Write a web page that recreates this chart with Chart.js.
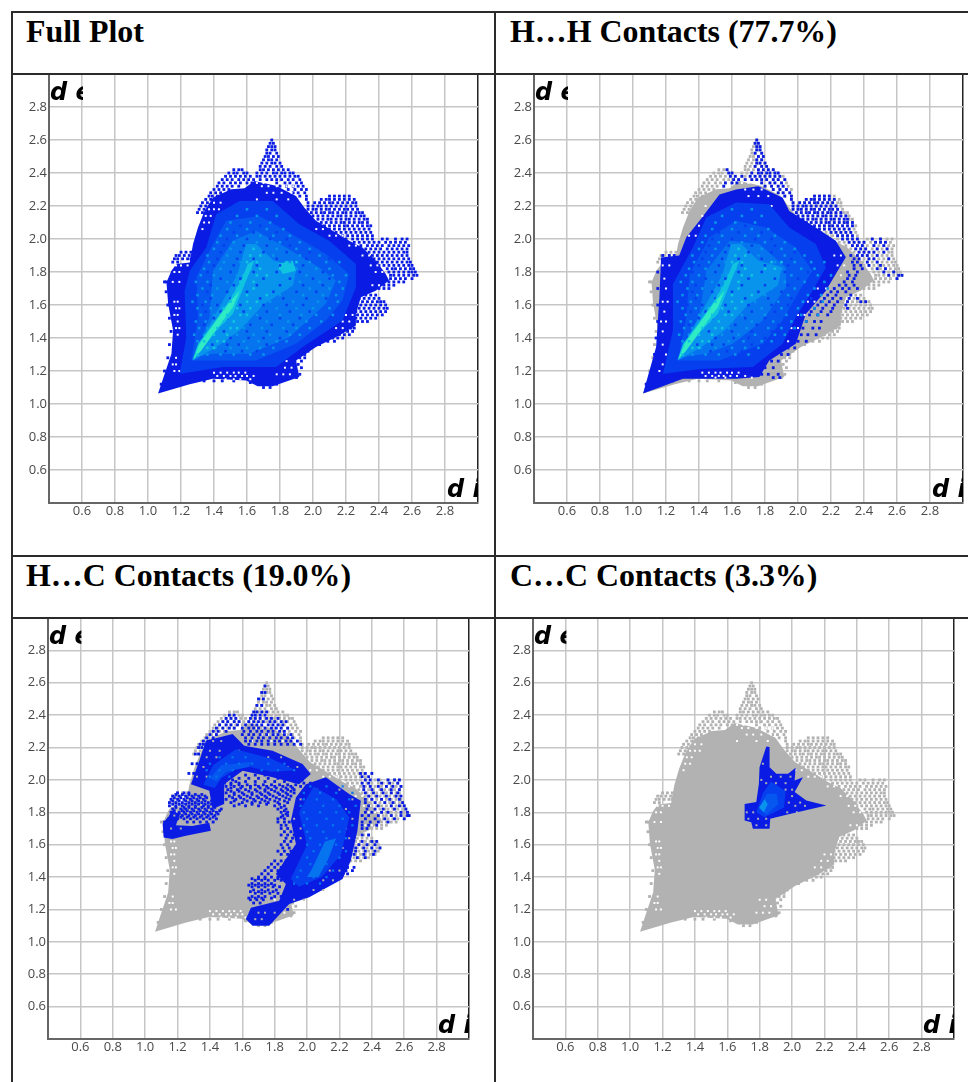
<!DOCTYPE html>
<html>
<head>
<meta charset="utf-8">
<title>Fingerprint plots</title>
<script src="https://cdn.jsdelivr.net/npm/chart.js@4/dist/chart.umd.min.js"></script>
<style>
html, body { margin: 0; padding: 0; background: #fff; width: 968px; height: 1082px; overflow: hidden; }
.hline, .vline { position: absolute; background: #2b2b2b; z-index: 5; }
.title { position: absolute; font: bold 31.9px "Liberation Serif", serif; color: #000; white-space: nowrap; }
canvas { position: absolute; }
</style>
</head>
<body>
<div class="hline" style="left:11px;top:11px;width:957px;height:2px"></div>
<div class="hline" style="left:11px;top:73px;width:957px;height:2px"></div>
<div class="hline" style="left:11px;top:555px;width:957px;height:2px"></div>
<div class="hline" style="left:11px;top:617px;width:957px;height:2px"></div>
<div class="vline" style="left:11px;top:11px;width:2px;height:1071px"></div>
<div class="vline" style="left:494px;top:11px;width:2px;height:1071px"></div>

<div class="title" style="left:26px;top:14px">Full Plot</div>
<div class="title" style="left:510px;top:14px">H…H Contacts (77.7%)</div>
<div class="title" style="left:26px;top:558px">H…C Contacts (19.0%)</div>
<div class="title" style="left:510px;top:558px">C…C Contacts (3.3%)</div>

<canvas id="plotFull"></canvas>
<canvas id="plotHH"></canvas>
<canvas id="plotHC"></canvas>
<canvas id="plotCC"></canvas>

<script>
//////////////////
// Data, all read off the picture. Outlines are [di, de] pairs, rows are [de, di, di, ...]

var tickValues = [0.6,0.8,1.0,1.2,1.4,1.6,1.8,2.0,2.2,2.4,2.6,2.8,3.0];
var tickLabels = ["0.6","0.8","1.0","1.2","1.4","1.6","1.8","2.0","2.2","2.4","2.6","2.8",""];

var blue = ["#0a1ce4","#0640ee","#0656f0","#0674ee","#0894ec","#10c4e0","#30ecc4"];
var greyColor = "#b2b2b2";

// whole cloud, solid part
var cloudOutline = [[1.061,1.063],[1.091,1.153],[1.142,1.305],[1.152,1.446],[1.122,1.607],[1.112,1.738],[1.142,1.808],[1.172,1.848],[1.253,1.858],[1.273,1.969],[1.303,2.070],[1.343,2.171],[1.394,2.251],[1.504,2.302],[1.585,2.308],[1.645,2.352],[1.776,2.322],[1.897,2.261],[1.947,2.191],[2.018,2.110],[2.119,2.050],[2.219,1.989],[2.300,1.949],[2.380,1.869],[2.441,1.788],[2.461,1.748],[2.380,1.687],[2.290,1.647],[2.260,1.546],[2.260,1.476],[2.159,1.415],[2.018,1.345],[1.897,1.264],[1.917,1.164],[1.756,1.107],[1.665,1.107],[1.595,1.143],[1.394,1.153],[1.253,1.119]];

// loose dots round the cloud
var cloudDots = [
[2.60,1.75],[2.58,1.74,1.76],[2.56,1.73,1.75,1.77],[2.54,1.72,1.75,1.77],[2.52,1.72,1.74,1.78],[2.50,1.71,1.73,1.76,1.79],[2.48,1.70,1.73,1.75,1.78],[2.46,1.69,1.72,1.75,1.77,1.80],[2.44,1.68,1.71,1.74,1.78,1.81],
[2.42,1.52,1.55,1.57,1.68,1.70,1.73,1.76,1.79,1.82,1.85],
[2.40,1.49,1.52,1.54,1.58,1.60,1.66,1.69,1.72,1.76,1.78,1.81,1.83,1.86,1.88],
[2.38,1.47,1.50,1.53,1.56,1.59,1.62,1.66,1.68,1.71,1.74,1.77,1.80,1.83,1.86,1.89,1.91],
[2.36,1.45,1.48,1.51,1.55,1.58,1.61,1.64,1.68,1.72,1.75,1.78,1.81,1.85,1.88,1.92],
[2.34,1.43,1.46,1.50,1.53,1.56,1.60,1.63,1.78,1.83,1.86,1.90,1.93],
[2.32,1.42,1.45,1.48,1.51,1.55,1.80,1.84,1.88,1.91,1.94],
[2.30,1.40,1.43,1.46,1.49,1.85,1.89,1.93,1.96],
[2.28,1.38,1.41,1.44,1.88,1.91,1.95],
[2.26,1.37,1.39,1.42,1.92,1.96,2.10,2.13,2.16,2.19,2.22],
[2.24,1.35,1.38,1.41,1.96,2.05,2.08,2.10,2.13,2.16,2.19,2.22,2.25],
[2.22,1.33,1.36,1.39,1.97,2.01,2.04,2.07,2.10,2.12,2.15,2.18,2.21,2.24,2.26],
[2.20,1.32,1.35,1.97,2.00,2.03,2.05,2.08,2.11,2.14,2.17,2.20,2.23,2.26],
[2.18,1.31,1.34,1.97,2.00,2.02,2.05,2.08,2.10,2.13,2.16,2.19,2.21,2.24,2.27],
[2.16,1.30,1.33,1.99,2.02,2.05,2.07,2.10,2.12,2.15,2.18,2.20,2.23,2.26,2.28,2.30],
[2.14,2.00,2.03,2.06,2.09,2.12,2.15,2.17,2.20,2.23,2.26,2.29,2.31],
[2.12,2.03,2.06,2.09,2.11,2.14,2.17,2.20,2.22,2.25,2.28,2.31,2.33],
[2.10,2.05,2.08,2.11,2.14,2.17,2.19,2.22,2.25,2.28,2.30,2.33],
[2.08,2.04,2.07,2.10,2.13,2.16,2.19,2.21,2.24,2.27,2.30,2.33,2.35],
[2.06,2.06,2.10,2.13,2.16,2.19,2.22,2.25,2.28,2.31,2.34],
[2.04,2.10,2.14,2.17,2.20,2.23,2.26,2.29,2.32,2.35],
[2.02,2.15,2.18,2.21,2.24,2.27,2.30,2.33,2.36],
[2.00,2.20,2.24,2.27,2.30,2.33,2.36,2.42,2.45,2.50,2.54,2.57],
[1.98,2.25,2.28,2.31,2.34,2.37,2.40,2.44,2.47,2.50,2.53,2.56],
[1.96,2.29,2.33,2.36,2.39,2.42,2.46,2.49,2.52,2.55,2.58],
[1.94,2.32,2.35,2.38,2.41,2.45,2.48,2.51,2.54,2.57],
[1.92,1.20,1.23,1.26,2.34,2.37,2.40,2.43,2.46,2.49,2.52,2.55,2.57],
[1.90,1.17,1.19,1.22,1.25,1.27,2.36,2.39,2.42,2.45,2.48,2.51,2.54,2.57],
[1.88,1.16,1.18,1.21,1.24,1.26,2.37,2.40,2.43,2.46,2.49,2.52,2.55,2.58],
[1.86,1.15,1.18,2.39,2.42,2.45,2.48,2.51,2.54,2.57,2.59],
[1.84,2.40,2.43,2.46,2.49,2.52,2.55,2.58,2.60],
[1.82,2.45,2.48,2.50,2.53,2.56,2.59,2.61],
[1.80,2.46,2.49,2.52,2.55,2.58,2.60,2.62],
[1.78,2.47,2.49,2.52,2.55,2.58,2.61,2.63],
[1.76,2.47,2.50,2.53,2.56,2.60],
[1.74,2.46,2.49,2.52,2.55],
[1.72,2.43,2.46,2.49],
[1.70,2.40,2.43,2.46],
[1.66,2.29,2.32,2.35,2.38],
[1.64,2.28,2.31,2.34,2.37,2.40],
[1.62,2.27,2.30,2.33,2.36,2.39,2.41,2.43],
[1.60,2.26,2.29,2.32,2.35,2.38,2.41,2.44],
[1.58,2.28,2.31,2.34,2.37,2.40,2.43,2.45],
[1.56,2.26,2.29,2.32,2.35,2.38,2.41,2.44],
[1.54,2.27,2.30,2.33,2.36,2.39,2.42],
[1.52,2.26,2.29,2.32,2.35,2.38],
[1.50,2.27,2.30,2.33],
[1.46,2.20,2.23,2.25],
[1.44,2.15,2.18,2.21,2.24],
[1.42,2.10,2.13,2.16,2.19,2.22],
[1.40,2.05,2.08,2.12,2.15,2.18],
[1.38,2.02,2.05,2.09,2.13],
[1.36,2.00,2.04],
[1.32,1.94,1.97],
[1.30,1.91,1.95],
[1.28,1.88,1.92,1.95],
[1.26,1.86,1.89,1.93],
[1.24,1.87,1.91],
[1.22,1.85,1.89,1.93],
[1.18,1.89,1.92],
// rough bits along the solid edge
[1.74,1.10,1.11],[1.68,1.11],[1.60,1.12],[1.52,1.13],[1.44,1.14],[1.36,1.13],[1.28,1.12],[1.20,1.10],[1.12,1.08,1.11],
[1.13,1.19,1.22,1.62],[1.14,1.28,1.34,1.40,1.45,1.52],[1.12,1.67,1.73,1.78],[1.10,1.70,1.74],[1.16,1.86,1.90]
];

// white holes in the solid part
var cloudHoles = [
[2.34,1.66,1.70,1.74,1.80],[2.32,1.69,1.73,1.78,1.84,1.88],[2.28,1.72,1.76,1.81,1.87],[2.24,1.66,1.78,1.85],
[2.22,1.40,1.44],[2.18,1.37,1.40,1.43],[2.14,1.35,1.38],[2.10,1.34,1.37],[2.06,1.33],
[1.84,1.17,1.20,1.24],[1.80,1.16,1.19],[1.74,1.15,1.19],
[1.62,1.16,1.18],[1.58,1.17,1.19],[1.54,1.16,1.18],[1.50,1.18],[1.46,1.17,1.19],[1.42,1.18],[1.28,1.17],[1.24,1.15,1.17],[1.20,1.16,1.19],
[1.19,1.40,1.44,1.48,1.52,1.55,1.59],[1.17,1.42,1.46,1.50,1.53,1.57,1.60,1.64],[1.15,1.47,1.52,1.56,1.62],
[2.06,2.02,2.06],[2.02,2.10,2.14,2.18],[1.96,2.22,2.26],[1.90,2.30,2.34],[1.84,2.35,2.39],[1.80,2.38,2.42],[1.72,2.36,2.40],
[1.54,2.20,2.24],[1.50,2.18,2.22],[1.46,2.14,2.18],[1.26,1.80,1.84],[1.22,1.83,1.87],[1.18,1.78,1.82,1.86]
];

// density layers of the full plot
var fullMid = [[1.192,1.184],[1.232,1.405],[1.222,1.687],[1.253,1.808],[1.353,1.949],[1.414,2.150],[1.555,2.231],[1.756,2.231],[1.917,2.090],[2.098,1.989],[2.260,1.848],[2.260,1.707],[2.179,1.506],[1.937,1.345],[1.776,1.224],[1.454,1.224]];
var fullLight = [[1.263,1.264],[1.303,1.526],[1.293,1.768],[1.394,1.969],[1.474,2.110],[1.675,2.140],[1.837,2.050],[2.078,1.909],[2.219,1.788],[2.179,1.627],[2.078,1.506],[1.897,1.365],[1.655,1.264],[1.414,1.264]];
var fullLighter = [[1.283,1.284],[1.373,1.526],[1.394,1.808],[1.514,1.989],[1.655,2.050],[1.837,1.949],[2.038,1.828],[2.139,1.748],[2.078,1.607],[1.857,1.405],[1.615,1.305],[1.394,1.305]];
var coreBand = [[1.273,1.264],[1.414,1.345],[1.555,1.446],[1.696,1.600],[1.880,1.720],[1.900,1.830],[1.760,1.870],[1.655,1.969],[1.595,1.969],[1.540,1.780],[1.440,1.600],[1.333,1.405]];
var coreCyan = [[1.269,1.264],[1.373,1.405],[1.514,1.546],[1.595,1.748],[1.645,1.869],[1.605,1.848],[1.565,1.748],[1.494,1.627],[1.394,1.486],[1.303,1.365]];
var coreLobe = [[1.786,1.848],[1.877,1.869],[1.897,1.808],[1.816,1.788]];
var coreSpring = [[1.273,1.268],[1.323,1.325],[1.514,1.587],[1.555,1.687],[1.494,1.617],[1.414,1.506],[1.313,1.365]];

// mottling inside the cloud
var speckLight = [
[1.30,1.36,1.44,1.52,1.62,1.70],[1.34,1.32,1.41,1.50,1.60,1.68,1.76],[1.38,1.30,1.37,1.46,1.58,1.67,1.78,1.84],[1.42,1.28,1.34,1.43,1.54,1.64,1.74,1.86,1.92],
[1.46,1.31,1.36,1.47,1.58,1.69,1.82,1.90,1.98],[1.50,1.29,1.35,1.44,1.60,1.72,1.85,1.96,2.05],[1.54,1.32,1.40,1.52,1.66,1.80,1.93,2.02,2.12],[1.58,1.30,1.38,1.50,1.64,1.78,1.90,2.00,2.10],
[1.62,1.27,1.35,1.46,1.62,1.74,1.88,2.03,2.15],[1.66,1.30,1.39,1.52,1.66,1.80,1.94,2.06,2.14],[1.70,1.33,1.42,1.56,1.70,1.84,1.98,2.10,2.18],[1.74,1.29,1.36,1.48,1.60,1.76,1.92,2.04,2.16],
[1.78,1.32,1.40,1.54,1.68,1.82,1.96,2.12,2.20],[1.82,1.34,1.44,1.58,1.72,1.90,2.02,2.10],[1.86,1.37,1.46,1.56,1.70,1.86,1.98,2.08,2.16],[1.90,1.36,1.48,1.60,1.76,1.92,2.04],
[1.94,1.40,1.50,1.62,1.78,1.90,1.98],[1.98,1.42,1.52,1.66,1.80,1.92],[2.02,1.44,1.54,1.68,1.76,1.86],[2.06,1.48,1.60,1.72,1.82],[2.10,1.50,1.62,1.74],[2.14,1.54,1.66,1.78],[2.18,1.60,1.72]
];
var speckDark = [
[1.32,1.47,1.57,1.66],[1.36,1.39,1.48,1.55,1.72],[1.40,1.33,1.50,1.61,1.70,1.80],[1.44,1.38,1.46,1.60,1.72,1.84],[1.48,1.34,1.62,1.75,1.88],[1.52,1.40,1.48,1.68,1.80,1.92],
[1.56,1.35,1.44,1.58,1.72,1.86,1.98],[1.60,1.33,1.42,1.56,1.70,1.84,1.94],[1.64,1.38,1.50,1.68,1.82,1.96,2.08],[1.68,1.36,1.48,1.60,1.76,1.90,2.02],[1.72,1.38,1.52,1.66,1.80,1.94,2.06],
[1.76,1.44,1.56,1.70,1.86,2.00,2.10],[1.80,1.36,1.50,1.64,1.78,1.92,2.06],[1.84,1.40,1.52,1.66,1.80,1.94],[1.88,1.42,1.54,1.64,1.78,1.96,2.10],[1.92,1.44,1.56,1.70,1.84,1.98],[1.96,1.46,1.58,1.72,1.86],[2.00,1.48,1.60,1.74,1.84],[2.04,1.52,1.64,1.78],[2.08,1.56,1.68]
];
var speckBright = [
[1.30,1.30],[1.34,1.36,1.40],[1.38,1.34,1.42,1.46],[1.42,1.40,1.48],[1.46,1.42,1.50,1.54],[1.50,1.46,1.52],[1.54,1.48,1.56,1.60],[1.58,1.46,1.54,1.62],[1.62,1.50,1.60,1.66],[1.66,1.52,1.60,1.72],
[1.70,1.54,1.64],[1.74,1.56,1.64],[1.78,1.58,1.66,1.72],[1.82,1.62,1.68,1.80,1.86],[1.86,1.60,1.66,1.84,1.90],[1.90,1.62,1.68],[1.94,1.64]
];

// H...H
var hhOutline = [[1.061,1.063],[1.140,1.345],[1.160,1.647],[1.170,1.888],[1.280,1.900],[1.323,2.010],[1.403,2.110],[1.524,2.270],[1.625,2.300],[1.760,2.320],[1.907,2.250],[1.947,2.170],[2.108,2.070],[2.229,1.990],[2.290,1.890],[2.229,1.788],[2.169,1.687],[2.048,1.546],[1.987,1.365],[1.826,1.264],[1.766,1.163],[1.625,1.153],[1.303,1.153]];
var hhMid = [[1.182,1.184],[1.242,1.446],[1.242,1.727],[1.363,1.949],[1.444,2.130],[1.625,2.221],[1.826,2.211],[1.947,2.070],[2.108,1.969],[2.169,1.828],[2.088,1.687],[1.987,1.526],[1.907,1.365],[1.726,1.224],[1.424,1.214]];
var hhLight = [[1.272,1.264],[1.323,1.526],[1.343,1.788],[1.464,2.010],[1.625,2.110],[1.806,2.070],[1.987,1.949],[2.088,1.808],[2.008,1.687],[1.907,1.506],[1.786,1.365],[1.524,1.264]];
var hhLighter = [[1.303,1.284],[1.403,1.546],[1.444,1.808],[1.585,1.989],[1.766,1.969],[1.927,1.828],[1.927,1.707],[1.786,1.506],[1.605,1.365],[1.444,1.305]];
var hhDots = [
[2.60,1.75],[2.58,1.74,1.76],[2.56,1.75,1.77],[2.54,1.75,1.77],[2.52,1.74,1.78],[2.50,1.76,1.79],[2.48,1.75,1.78],[2.46,1.75,1.77,1.80],[2.44,1.74,1.78,1.81],
[2.42,1.57,1.76,1.79,1.82,1.85],[2.40,1.58,1.60,1.72,1.76,1.78,1.81,1.83,1.86,1.88],[2.38,1.59,1.62,1.66,1.71,1.74,1.77,1.80,1.83,1.86,1.89],
[2.36,1.61,1.64,1.68,1.72,1.75,1.78,1.81,1.85,1.88,1.92],[2.34,1.56,1.60,1.63,1.78,1.83,1.86,1.90],[2.32,1.55,1.80,1.84,1.88,1.91],[2.30,1.85,1.89,1.93],[2.28,1.88,1.91,1.95],
[2.26,1.92,1.96,2.10,2.13,2.16,2.19],[2.24,1.96,2.05,2.08,2.10,2.13,2.16,2.19,2.22],[2.22,1.97,2.01,2.04,2.07,2.10,2.12,2.15,2.18,2.21],[2.20,1.97,2.00,2.03,2.05,2.08,2.11,2.14,2.17,2.20,2.23],
[2.18,1.97,2.00,2.02,2.05,2.08,2.10,2.13,2.16,2.19,2.21,2.24],[2.16,1.99,2.02,2.05,2.07,2.10,2.12,2.15,2.18,2.20,2.23,2.26],[2.14,2.00,2.03,2.06,2.09,2.12,2.15,2.17,2.20,2.23,2.26,2.29],
[2.12,2.03,2.06,2.09,2.11,2.14,2.17,2.20,2.22,2.25,2.28,2.30],[2.10,2.05,2.08,2.11,2.14,2.17,2.19,2.22,2.25,2.28,2.30,2.33],[2.08,2.10,2.13,2.16,2.19,2.21,2.24,2.27,2.30,2.33],[2.06,2.13,2.16,2.19,2.22,2.25,2.28,2.31],
[2.04,2.20,2.23,2.26,2.29,2.32],[2.02,2.24,2.27,2.30,2.33],[2.00,2.27,2.30,2.33,2.36,2.45,2.50],[1.98,2.31,2.34,2.37,2.40,2.47,2.50,2.53],[1.96,2.33,2.36,2.39,2.46,2.52],[1.94,2.35,2.38,2.41,2.48,2.54],
[1.92,2.37,2.40,2.43,2.46,2.52],[1.90,2.32,2.36,2.39,2.42,2.48],[1.88,2.34,2.37,2.43,2.46,2.55],[1.86,2.33,2.36,2.42,2.48],[1.84,2.34,2.38,2.43,2.50],[1.82,2.34,2.39,2.48,2.53],
[1.80,2.30,2.36,2.52,2.58],[1.78,2.31,2.35,2.55,2.61,2.63],[1.76,2.30,2.34,2.60],[1.74,2.28,2.33],[1.72,2.25,2.29,2.34],[1.70,2.22,2.27,2.31,2.36],[1.68,2.20,2.24,2.29],[1.66,2.18,2.23,2.32],
[1.64,2.16,2.21,2.26,2.31,2.36],[1.62,2.14,2.19,2.24,2.30,2.38,2.41],[1.60,2.12,2.17,2.22,2.29],[1.58,2.10,2.15,2.21,2.30],[1.56,2.08,2.14,2.20],[1.54,2.07,2.12,2.18],[1.50,2.05,2.10,2.14],[1.46,2.03,2.09,2.13],[1.42,2.02,2.06,2.11],[1.38,2.00,2.05],
[1.34,1.94,1.98],[1.30,1.90,1.94],[1.26,1.84,1.88],[1.22,1.80,1.85],[1.18,1.78,1.82,1.88],[1.16,1.85,1.89],
[1.12,1.08,1.11],[1.14,1.11,1.19,1.24],[1.20,1.12],[1.30,1.13],[1.40,1.14],[1.50,1.15],[1.60,1.15],[1.70,1.15],[1.80,1.15],[1.90,1.18,1.22,1.25]
];
var hhHoles = [
[2.34,1.66,1.70,1.74],[2.30,1.68,1.73,1.78],[2.26,1.70,1.76,1.82],[2.20,1.44,1.84],[2.14,1.42,1.48],[2.08,1.40],[2.02,1.34,1.38],
[1.84,1.18,1.22],[1.76,1.19],[1.70,1.20],[1.62,1.18,1.21],[1.56,1.19],[1.50,1.17,1.20],[1.44,1.18],[1.36,1.18],[1.30,1.20],[1.24,1.18,1.21],[1.20,1.16],
[1.19,1.42,1.46,1.50,1.53,1.57,1.60,1.64],[1.17,1.44,1.48,1.52,1.55,1.59,1.63,1.68],[1.16,1.50,1.56,1.72],
[1.90,2.22,2.26],[1.84,2.24,2.28],[1.78,2.20,2.26],[1.70,2.12,2.17],[1.62,2.06,2.10],[1.54,2.00,2.04],[1.46,1.96,2.00],[1.38,1.94]
];

// H...C
var hcArm = [[1.283,1.974],[1.334,2.118],[1.375,2.242],[1.540,2.283],[1.612,2.211],[1.787,2.180],[1.972,2.098],[2.023,2.036],[1.951,1.974],[1.787,2.016],[1.602,2.057],[1.488,1.974],[1.488,1.851],[1.416,1.820],[1.396,1.933]];
var hcLeft = [[1.114,1.645],[1.108,1.728],[1.169,1.810],[1.215,1.790],[1.190,1.720],[1.290,1.715],[1.396,1.735],[1.406,1.686],[1.252,1.655],[1.169,1.635]];
var hcLobe = [[1.900,1.748],[1.931,1.892],[1.993,1.974],[2.116,2.016],[2.260,1.913],[2.332,1.872],[2.311,1.686],[2.270,1.501],[2.219,1.388],[2.013,1.275],[1.890,1.234],[1.766,1.100],[1.663,1.100],[1.622,1.141],[1.653,1.210],[1.828,1.254],[1.869,1.357],[1.807,1.419],[1.931,1.604]];
var hcArmCore = [[1.360,1.970],[1.420,2.090],[1.560,2.190],[1.780,2.130],[1.930,2.060],[1.780,2.050],[1.600,2.090],[1.470,2.010],[1.430,1.950]];
var hcLobeCore = [[1.950,1.800],[2.040,1.960],[2.180,1.880],[2.260,1.770],[2.210,1.540],[2.090,1.400],[1.950,1.340],[1.900,1.390],[2.000,1.600]];
var hcArmBright = [[1.400,2.010],[1.470,2.090],[1.650,2.110],[1.640,2.080],[1.500,2.050],[1.440,1.990]];
var hcLobeBright = [[2.000,1.400],[2.030,1.450],[2.110,1.620],[2.180,1.640],[2.130,1.510],[2.070,1.400]];
var hcSpeck = [
[2.14,1.46,1.54,1.62],[2.10,1.40,1.50,1.58,1.66,1.76,1.86],[2.06,1.38,1.46,1.54,1.72,1.82,1.92],[2.02,1.40,1.44,1.52],
[1.96,2.02,2.12,2.22],[1.92,1.98,2.08,2.18,2.28],[1.88,1.98,2.06,2.16,2.26],[1.84,1.96,2.10,2.20,2.30],[1.80,1.98,2.08,2.18,2.26],[1.76,2.00,2.12,2.22],[1.72,1.98,2.06,2.16,2.28],[1.68,2.00,2.10,2.20],
[1.64,2.02,2.12,2.24],[1.60,2.00,2.08,2.18],[1.56,2.04,2.14,2.24],[1.52,2.00,2.10,2.20],[1.48,2.02,2.12],[1.44,1.96,2.06,2.16],[1.40,1.94,2.04,2.12],[1.36,1.92,2.00,2.08]
];
var hcDots = [
[2.58,1.74],[2.54,1.72,1.74],[2.50,1.70,1.73],[2.46,1.69,1.72],[2.42,1.67,1.69,1.72,1.75],[2.40,1.52,1.55,1.66,1.68,1.71,1.74],
[2.38,1.50,1.53,1.56,1.65,1.68,1.71,1.75,1.78,1.82],[2.36,1.48,1.51,1.55,1.58,1.64,1.67,1.70,1.73,1.77,1.80,1.84,1.87],[2.34,1.46,1.50,1.53,1.57,1.62,1.66,1.69,1.72,1.76,1.79,1.82,1.85],
[2.32,1.44,1.48,1.52,1.55,1.60,1.64,1.67,1.70,1.74,1.78,1.81,1.84,1.88],[2.30,1.42,1.45,1.50,1.61,1.65,1.69,1.72,1.76,1.79,1.83,1.86],[2.28,1.40,1.44,1.60,1.64,1.67,1.71,1.75,1.79,1.82,1.86,1.90],
[2.26,1.38,1.42,1.62,1.66,1.70,1.73,1.77,1.81,1.84,1.88,1.91],[2.24,1.36,1.39,1.62,1.65,1.69,1.72,1.76,1.80,1.83,1.87,1.90,1.94],[2.22,1.34,1.36,1.64,1.68,1.72,1.76,1.80,1.84,1.88,1.92,1.96],[2.20,1.33,1.35],[2.16,1.31,1.33],[2.10,1.29,1.32],[2.04,1.27,1.30],
[2.00,1.50,1.54,1.97],[1.98,1.49,1.53,1.58,1.98,2.02],[1.96,1.50,1.55,1.60,1.65,1.70,1.75,1.80,1.85,1.90,1.96],[1.94,1.51,1.57,1.62,1.68,1.74,1.78,1.84,1.88,1.92],[1.92,1.20,1.24,1.27,1.50,1.55,1.60,1.66,1.71,1.76,1.82,1.87,1.92],
[1.90,1.17,1.21,1.25,1.29,1.33,1.37,1.52,1.58,1.63,1.69,1.74,1.79,1.85,1.90],[1.88,1.16,1.20,1.24,1.28,1.32,1.36,1.50,1.56,1.61,1.67,1.72,1.77,1.83,1.89],[1.86,1.15,1.19,1.23,1.27,1.31,1.35,1.39,1.53,1.60,1.66,1.71,1.76,1.82,1.88],
[1.84,1.15,1.19,1.23,1.27,1.31,1.36,1.39,1.55,1.62,1.70,1.80,1.86],[1.82,1.17,1.22,1.25,1.29,1.33,1.37,1.41,1.47,1.82,1.87],[1.80,1.16,1.21,1.24,1.28,1.32,1.36,1.40,1.44,1.84,1.88],[1.78,1.19,1.23,1.27,1.31,1.35,1.39,1.43,1.85,1.88],
[1.76,1.20,1.24,1.28,1.32,1.36,1.40,1.44,1.82,1.86],[1.74,1.12,1.26,1.30,1.34,1.38,1.42,1.82,1.86,1.89],[1.70,1.13,1.18,1.84,1.88],[1.66,1.84,1.88,1.92],[1.62,1.86,1.90],[1.58,1.85,1.89,1.93],[1.54,1.84,1.88],[1.50,1.80,1.84,1.87,1.92],[1.46,1.76,1.80,1.84,1.88],[1.42,1.72,1.76],
[1.40,1.70,1.74,1.78,1.82],[1.38,1.68,1.72,1.76,1.80,1.84],[1.36,1.66,1.70,1.74,1.78],[1.34,1.66,1.70,1.74,1.79,1.83],[1.32,1.67,1.72,1.76,1.81],[1.30,1.68,1.72,1.77,1.82],[1.28,1.66,1.70,1.74,1.80,1.84],[1.26,1.65,1.69,1.73],[1.24,1.67,1.71],
[2.04,2.33,2.36,2.40],[2.02,2.34,2.38],[2.00,2.36,2.39,2.44,2.50,2.54,2.57],[1.98,2.34,2.38,2.46,2.51,2.56],[1.96,2.35,2.39,2.44,2.49,2.53,2.58],[1.94,2.35,2.40,2.46,2.52,2.57],[1.92,2.36,2.41,2.47,2.52,2.56],[1.90,2.38,2.43,2.49,2.55,2.58],[1.88,2.36,2.40,2.46,2.51,2.57],[1.86,2.36,2.42,2.48,2.53,2.59],[1.84,2.38,2.44,2.52,2.57,2.60],[1.82,2.37,2.42,2.47,2.54,2.61],[1.80,2.36,2.40,2.46,2.50,2.58,2.62],[1.78,2.34,2.38,2.44,2.52,2.58,2.62,2.63],[1.76,2.36,2.42,2.48,2.54,2.60],[1.74,2.34,2.39,2.44,2.50],[1.72,2.34,2.38,2.43],[1.70,2.34,2.37],[1.66,2.34,2.38],
[1.62,2.34,2.40,2.43],[1.60,2.32,2.37,2.42],[1.58,2.30,2.35,2.40,2.45],[1.56,2.30,2.36,2.42],[1.54,2.29,2.35,2.41],[1.52,2.31,2.36],[1.46,2.25,2.29],[1.44,2.24,2.28],[1.42,2.22,2.25],[1.40,2.15,2.19],[1.36,2.04,2.10],[1.32,1.94,1.99],[1.20,1.84,1.88],
// the mixed blue and grey band under the arm and beside the lobe
[2.03,1.62,1.68,1.74,1.80,1.86,1.92],[2.01,1.58,1.64,1.70,1.76,1.82,1.88,1.94],[1.99,1.56,1.62,1.68,1.74,1.80,1.86,1.92],[1.97,1.53,1.58,1.63,1.68,1.73,1.78,1.83,1.88,1.93],[1.95,1.53,1.59,1.65,1.71,1.76,1.81,1.87,1.91],[1.93,1.53,1.58,1.64,1.69,1.74,1.80,1.85,1.90],
[1.91,1.19,1.23,1.27,1.31,1.35,1.55,1.61,1.66,1.72,1.77,1.83,1.88],[1.89,1.18,1.22,1.26,1.30,1.34,1.38,1.54,1.59,1.65,1.70,1.75,1.81,1.87],[1.87,1.17,1.21,1.25,1.29,1.33,1.37,1.41,1.55,1.63,1.68,1.74,1.80,1.86],[1.85,1.17,1.21,1.25,1.29,1.33,1.37,1.41,1.58,1.66,1.75,1.83],
[1.83,1.19,1.24,1.27,1.31,1.35,1.39,1.43,1.84],[1.81,1.18,1.23,1.26,1.30,1.34,1.38,1.42,1.46,1.86],[1.79,1.21,1.25,1.29,1.33,1.37,1.41,1.45,1.87],[1.77,1.22,1.26,1.30,1.34,1.38,1.42,1.84],
[1.72,1.84,1.87],[1.68,1.86,1.90],[1.64,1.87,1.91],[1.60,1.84,1.88],[1.56,1.82,1.86,1.90],[1.48,1.78,1.82,1.86],[1.44,1.74,1.78,1.82],[1.39,1.66,1.70,1.74,1.82],[1.35,1.64,1.68,1.72,1.76,1.80],[1.31,1.65,1.70,1.74,1.79],[1.27,1.64,1.68,1.72,1.78]
];
var hcHoles = [
[2.24,1.42,1.47],[2.18,1.40,1.46,1.58],[2.14,1.38,1.44,1.70,1.76,1.84],[2.08,1.36,1.80,1.88,1.94],[2.02,1.32,1.38,1.46],[1.78,1.14,1.18],[1.70,1.16,1.22],
[1.94,2.06,2.20],[1.88,1.96,2.04,2.28],[1.82,2.00,2.14,2.24],[1.76,1.92,2.02,2.28],[1.70,1.96,2.06,2.24],[1.64,1.96,2.04,2.26],[1.58,2.00,2.08,2.22],[1.52,1.98,2.06,2.18],[1.44,1.96,2.02,2.14,2.20],[1.38,1.92,2.10,2.16],[1.32,2.04,2.10],[1.26,1.92,1.98],[1.18,1.70,1.74,1.80],[1.14,1.68,1.72]
];

// C...C
var ccOutline = [[1.841,2.207],[1.799,2.079],[1.795,1.976],[1.779,1.863],[1.707,1.852],[1.707,1.749],[1.748,1.739],[1.758,1.698],[1.861,1.698],[1.865,1.760],[1.985,1.790],[2.212,1.842],[2.088,1.873],[2.016,1.925],[2.067,2.017],[2.016,1.997],[2.022,2.075],[1.975,2.038],[1.903,2.038],[1.861,2.079],[1.861,2.203]];
var ccMid = [[1.780,1.800],[1.830,1.770],[1.950,1.830],[1.960,1.930],[1.870,1.990],[1.820,1.920]];
var ccLight = [[1.795,1.825],[1.840,1.785],[1.915,1.850],[1.905,1.915],[1.845,1.915]];
var ccBright = [[1.797,1.830],[1.825,1.800],[1.850,1.850],[1.830,1.880]];
var ccHoles = [
[2.02,1.87,1.93,1.99],[1.98,1.84,1.90,1.96],[1.94,1.96,2.00],[1.90,2.00],[1.86,1.98,2.05],[1.84,2.02,2.08],[1.80,1.72,1.76,1.97,2.03],[1.76,1.73,1.79,1.84,1.90,1.95],[1.72,1.78,1.84],[2.10,1.82],[2.00,1.81]
];


//////////////////
// Helpers

function outlinePoints(pairs) {
  return pairs.map(function(p) { return {x: p[0], y: p[1]}; });
}

function rowPoints(rows) {
  var pts = [];
  rows.forEach(function(r) {
    for (var i = 1; i < r.length; i++) pts.push({x: r[i], y: r[0]});
  });
  return pts;
}

function area(pairs, color) {
  return {data: outlinePoints(pairs), showLine: true, fill: 'shape', backgroundColor: color, borderColor: color, borderWidth: 0, pointRadius: 0, tension: 0};
}

function dots(rows, color, radius) {
  return {data: rowPoints(rows), showLine: false, pointStyle: 'rect', pointRadius: radius || 2.0, backgroundColor: color, borderWidth: 0};
}

var greyBase = [area(cloudOutline, greyColor), dots(cloudDots, greyColor)];

// the d e / d i corner labels are cut off by the plot edge in the picture
var cornerLabels = {
  id: 'cornerLabels',
  afterDraw: function(chart) {
    var a = chart.chartArea, ctx = chart.ctx;
    ctx.save();
    ctx.fillStyle = '#000';
    ctx.font = 'italic bold 24px "DejaVu Sans"';
    ctx.beginPath();
    ctx.rect(a.left, a.top, chart.scales.x.getPixelForValue(0.6) - a.left + 1, 40);
    ctx.clip();
    ctx.fillText('d e', a.left + 1, a.top + 26);
    ctx.restore();
    ctx.save();
    ctx.fillStyle = '#000';
    ctx.font = 'italic bold 24px "DejaVu Sans"';
    ctx.beginPath();
    ctx.rect(a.right - 40, a.bottom - 40, 40, 40);
    ctx.clip();
    ctx.fillText('d i', a.right - 31, a.bottom - 6);
    ctx.restore();
  }
};

function makePlot(id, left, top, size, layers) {
  var yWidth = 34, xHeight = 18;
  var canvas = document.getElementById(id);
  canvas.width = size + yWidth + 1;
  canvas.height = size + xHeight;
  canvas.style.left = (left - yWidth) + 'px';
  canvas.style.top = top + 'px';

  function axis(fit, pad) {
    return {
      type: 'linear', min: 0.4, max: 3.0,
      afterBuildTicks: function(scale) {
        scale.ticks = tickValues.map(function(v) { return {value: v}; });
      },
      afterFit: function(s) {
        fit(s);
        s.paddingLeft = 0; s.paddingRight = 0; s.paddingTop = 0; s.paddingBottom = 0;
      },
      ticks: {
        autoSkip: false, maxRotation: 0, padding: pad, color: '#4a4a4a',
        font: {family: '"Open Sans"', size: 13},
        callback: function(v) { return tickLabels[tickValues.indexOf(v)]; }
      },
      grid: {
        drawTicks: false, lineWidth: 1.5,
        color: function(c) { return c.tick && c.tick.value === 3.0 ? '#222' : '#c6c6c6'; }
      },
      border: {color: '#666', width: 2}
    };
  }

  return new Chart(canvas.getContext('2d'), {
    type: 'scatter',
    data: {datasets: layers.slice().reverse()},
    options: {
      responsive: false, animation: false,
      layout: {autoPadding: false, padding: {right: 1}},
      plugins: {legend: {display: false}, title: {display: false}, tooltip: {enabled: false}},
      scales: {
        x: axis(function(s) { s.height = xHeight; }, 0),
        y: axis(function(s) { s.width = yWidth; }, 2)
      }
    },
    plugins: [cornerLabels]
  });
}

makePlot('plotFull', 49, 74, 429, [
  area(cloudOutline, blue[0]), dots(cloudDots, blue[0]), dots(cloudHoles, '#fff', 1.4),
  area(fullMid, blue[1]), area(fullLight, blue[2]), area(fullLighter, blue[3]),
  area(coreBand, blue[4]), area(coreLobe, blue[5]), dots(speckDark, blue[1], 1.8), dots(speckLight, blue[4], 1.8),
  area(coreCyan, blue[5]), area(coreSpring, blue[6]), dots(speckBright, blue[5], 1.8)
]);

makePlot('plotHH', 534, 74, 429, greyBase.concat([
  area(hhOutline, blue[0]), dots(hhDots, blue[0]), dots(hhHoles, '#fff', 1.4),
  area(hhMid, blue[1]), area(hhLight, blue[2]), area(hhLighter, blue[3]),
  area(coreBand, blue[4]), dots(speckDark, blue[1], 1.8), dots(speckLight, blue[4], 1.8),
  area(coreCyan, blue[5]), area(coreSpring, blue[6]), dots(speckBright, blue[5], 1.8)
]));

makePlot('plotHC', 48, 618, 421, greyBase.concat([
  dots(cloudHoles, '#fff', 1.4),
  dots(hcDots, blue[0]), area(hcArm, blue[0]), area(hcLeft, blue[0]), area(hcLobe, blue[0]), dots(hcHoles, greyColor, 1.4),
  area(hcArmCore, blue[1]), area(hcLobeCore, blue[1]), area(hcArmBright, blue[2]), area(hcLobeBright, blue[3]), dots(hcSpeck, blue[3], 1.6)
]));

makePlot('plotCC', 533, 618, 421, greyBase.concat([
  dots(cloudHoles, '#fff', 1.4),
  area(ccOutline, blue[0]), area(ccMid, blue[1]), area(ccLight, blue[2]), area(ccBright, blue[4]), dots(ccHoles, greyColor, 1.4)
]));
</script>
</body>
</html>
